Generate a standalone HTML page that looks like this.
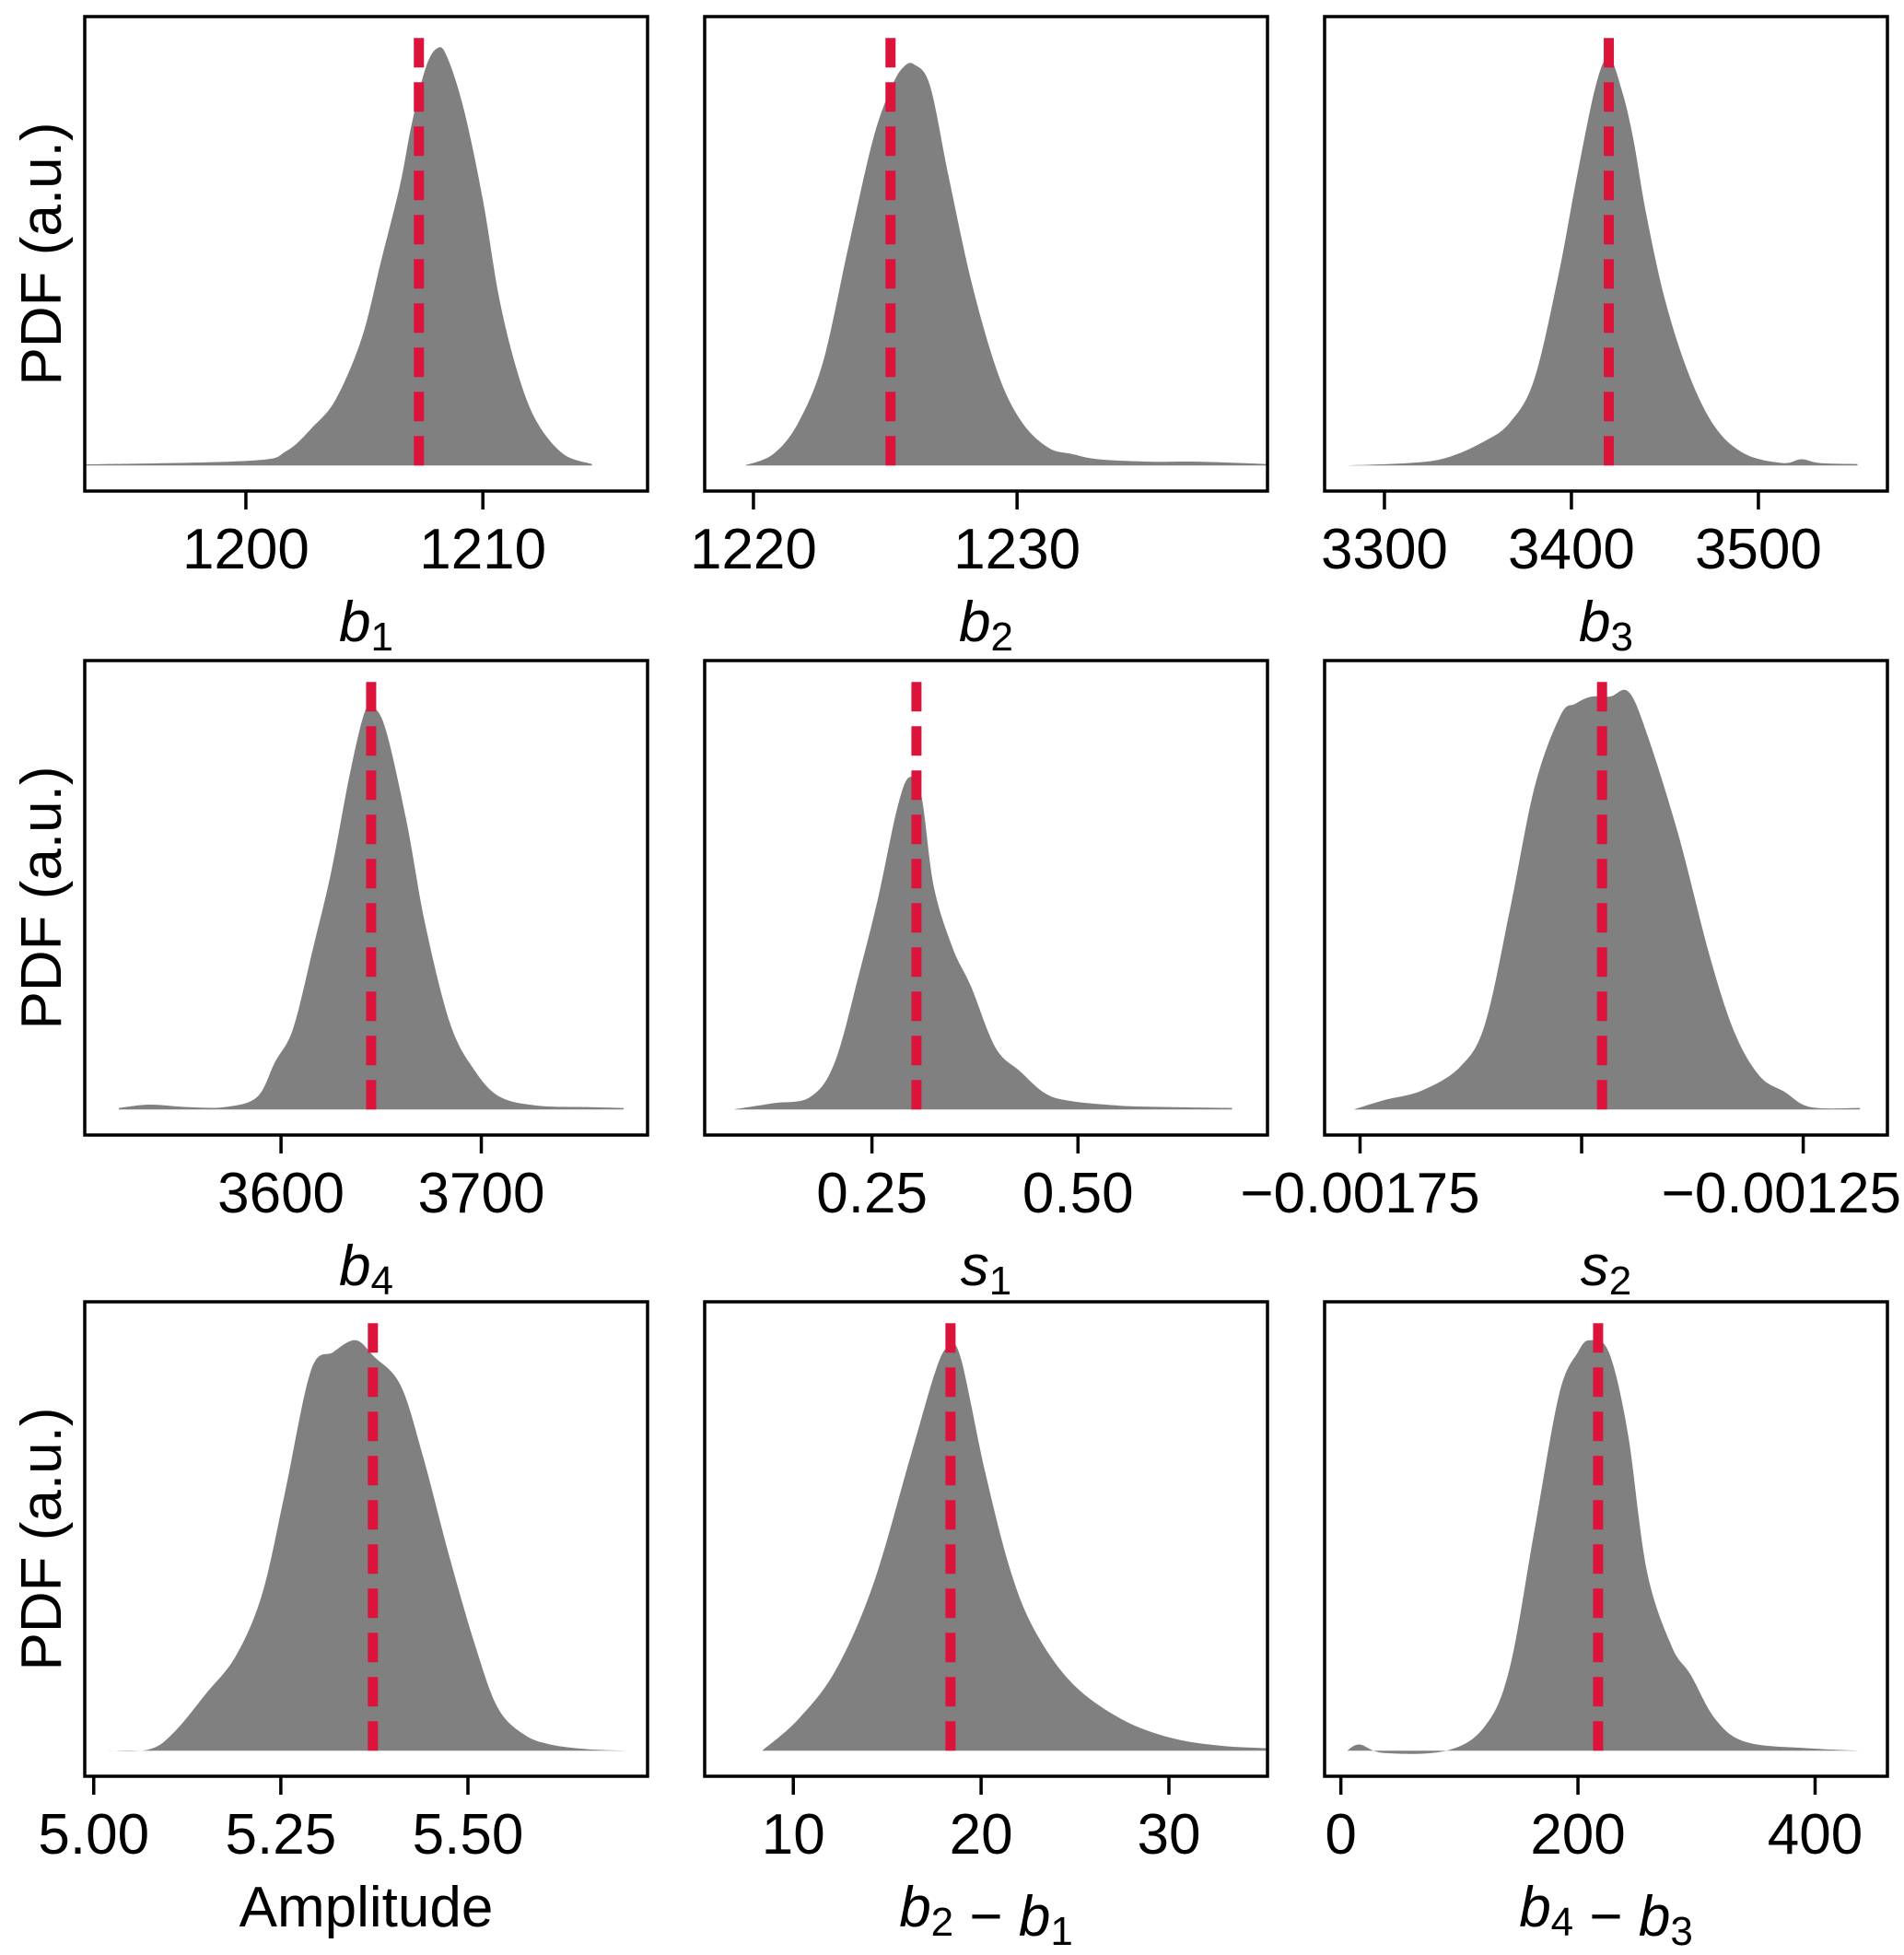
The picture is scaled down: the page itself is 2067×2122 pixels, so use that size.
<!DOCTYPE html>
<html><head><meta charset="utf-8">
<style>
html,body{margin:0;padding:0;background:#fff;}
svg{display:block;font-family:"Liberation Sans",Arial,sans-serif;}
</style></head>
<body>
<svg id="fig" width="2067" height="2122" viewBox="0 0 2067 2122"></svg>
<script>
// ---- data (per panel) ----
const p1x=[1193.2,1200.2,1201.7,1202.8,1203.8,1204.9,1205.7,1206.5,1207.0,1207.6,1208.1,1208.5,1209.2,1210.0,1210.7,1211.5,1212.3,1213.4,1214.6];
const p1y=[0.002,0.01,0.03,0.08,0.14,0.27,0.43,0.59,0.72,0.84,0.88,0.86,0.75,0.56,0.35,0.19,0.09,0.024,0.003];
const p2x=[1219.67,1220.75,1221.7,1222.65,1223.6,1224.55,1225.26,1225.7,1226.1,1226.7,1227.4,1228.3,1229.3,1230.2,1231.2,1232.1,1233.1,1235.0,1236.9,1239.5];
const p2y=[0.0,0.024,0.09,0.22,0.46,0.69,0.80,0.84,0.845,0.80,0.61,0.38,0.19,0.09,0.037,0.024,0.013,0.008,0.008,0.003];
const p3x=[3280,3313,3333,3353,3367,3380,3393,3403,3413,3420,3427,3433,3440,3450,3463,3477,3493,3513,3523,3533,3553];
const p3y=[0.0,0.005,0.016,0.05,0.09,0.18,0.40,0.61,0.80,0.86,0.79,0.69,0.53,0.35,0.19,0.08,0.024,0.005,0.013,0.005,0.003];
const p4x=[3519,3534.5,3553,3572,3588,3597,3606,3616,3625,3634.5,3642,3647,3653,3663,3672,3684.5,3697,3709.5,3728,3753,3771];
const p4y=[0.003,0.01,0.005,0.005,0.026,0.10,0.17,0.34,0.50,0.71,0.84,0.845,0.79,0.60,0.39,0.18,0.08,0.026,0.008,0.005,0.003];
const p5x=[0.082,0.13,0.175,0.205,0.235,0.258,0.28,0.295,0.31,0.325,0.348,0.37,0.40,0.43,0.46,0.49,0.55,0.61,0.687];
const p5y=[0.0,0.013,0.026,0.10,0.29,0.45,0.63,0.70,0.66,0.47,0.34,0.26,0.13,0.08,0.034,0.018,0.008,0.005,0.003];
const p6x=[-0.001757,-0.001722,-0.001680,-0.001637,-0.001609,-0.001581,-0.001553,-0.001524,-0.001507,-0.001489,-0.001468,-0.001447,-0.001426,-0.001391,-0.001355,-0.001327,-0.001299,-0.001271,-0.001242,-0.001186];
const p6y=[0.0,0.02,0.04,0.09,0.18,0.42,0.68,0.83,0.855,0.87,0.87,0.88,0.79,0.58,0.32,0.16,0.07,0.037,0.005,0.003];
const p7x=[5.02,5.075,5.108,5.15,5.19,5.225,5.255,5.29,5.32,5.35,5.375,5.41,5.44,5.475,5.51,5.54,5.575,5.61,5.66,5.71];
const p7y=[0.0,0.003,0.04,0.12,0.20,0.33,0.54,0.80,0.84,0.865,0.83,0.77,0.62,0.41,0.22,0.09,0.034,0.013,0.003,0.0];
const p8x=[8.34,10.26,12.26,14.25,16.24,17.57,18.23,18.9,20.2,21.56,22.9,24.9,27.5,30.2,32.85,35.25];
const p8y=[0.0,0.066,0.17,0.35,0.62,0.80,0.85,0.83,0.59,0.38,0.25,0.14,0.066,0.026,0.01,0.005];
const p9x=[5.3,15.8,36.8,89,121,142,163,184,200,210,226,242,258,279,295,316,342,395,437];
const p9y=[0.0,0.013,-0.005,0.0,0.05,0.17,0.46,0.75,0.84,0.865,0.84,0.67,0.38,0.22,0.16,0.066,0.018,0.005,0.0];
const truthVals=[1207.3,1225.2,3420,3645,0.304,-0.001477,5.373,18.37,217];
const xMins=[1193.2,1218.15,3268,3502,0.047,-0.00179,4.988,5.28,-13.7];
const xMaxs=[1216.95,1239.5,3569,3783,0.73,-0.001155,5.74,35.25,461];
const tickVals=[[1200,1210],[1220,1230],[3300,3400,3500],[3600,3700],[0.25,0.5],[-0.00175,-0.0015,-0.00125],[5.0,5.25,5.5],[10,20,30],[0,200,400]];
const tickLabels=[["1200","1210"],["1220","1230"],["3300","3400","3500"],["3600","3700"],["0.25","0.50"],["\u22120.00175","","\u22120.00125"],["5.00","5.25","5.50"],["10","20","30"],["0","200","400"]];
const xsArr=[p1x,p2x,p3x,p4x,p5x,p6x,p7x,p8x,p9x];
const ysArr=[p1y,p2y,p3y,p4y,p5y,p6y,p7y,p8y,p9y];
const labels=[["b","1"],["b","2"],["b","3"],["b","4"],["s","1"],["s","2"],["Amplitude",null],["b2-b1",null],["b4-b3",null]];

const NS="http://www.w3.org/2000/svg";
const svg=document.getElementById('fig');
const colL=[92,765,1438], rowT=[18,717,1413], W=611, H=515;
const Y0=-0.054, Y1=0.946;
function mk(tag,attrs,parent){const e=document.createElementNS(NS,tag);for(const k in attrs)e.setAttribute(k,attrs[k]);(parent||svg).appendChild(e);return e;}

function smoothPath(pts){
  let d=`M${pts[0][0]},${pts[0][1]}`;
  for(let i=0;i<pts.length-1;i++){
    const p0=pts[i-1]||pts[i],p1=pts[i],p2=pts[i+1],p3=pts[i+2]||p2;
    const c1=[p1[0]+(p2[0]-p0[0])/6,p1[1]+(p2[1]-p0[1])/6];
    const c2=[p2[0]-(p3[0]-p1[0])/6,p2[1]-(p3[1]-p1[1])/6];
    d+=` C${c1[0]},${c1[1]} ${c2[0]},${c2[1]} ${p2[0]},${p2[1]}`;
  }
  return d;
}

for(let i=0;i<9;i++){
  const r=Math.floor(i/3),c=i%3;
  const L=colL[c],T=rowT[r],B=T+H;
  const xs=v=>L+(v-xMins[i])/(xMaxs[i]-xMins[i])*W;
  const ys=v=>B-(v-Y0)/(Y1-Y0)*H;
  const g=mk('g',{});
  
  
  const pts=xsArr[i].map((x,j)=>[xs(x),ys(ysArr[i][j])]);
  let d=smoothPath(pts);
  d+=` L${xs(xsArr[i][xsArr[i].length-1])},${ys(0)} L${xs(xsArr[i][0])},${ys(0)} Z`;
  const path=mk('path',{d:d,fill:'#808080',stroke:'none'},g);
  
  
  const tl=mk('line',{x1:xs(truthVals[i]),x2:xs(truthVals[i]),y1:ys(0),y2:ys(0.905),stroke:'#DC143C','stroke-width':11,'stroke-dasharray':'32 16'},g);
  
  
  const fr=mk('rect',{x:L,y:T,width:W,height:H,fill:'none',stroke:'#000','stroke-width':3.5},g);
  
  
  tickVals[i].forEach((t,k)=>{
    const x=xs(t);
    const tk=mk('line',{x1:x,x2:x,y1:B,y2:B+20,stroke:'#000','stroke-width':3.5},g);
    
    
    if(tickLabels[i][k]){
      const tx=mk('text',{x:x,y:B+84,'font-size':62,'text-anchor':'middle',fill:'#000'},g);
      tx.textContent=tickLabels[i][k];
      
      
      const bb=tx.getBBox();
      if(bb.x+bb.width>2064){tx.setAttribute('text-anchor','end');tx.setAttribute('x',2064);}
    }
  });
  const xl=mk('text',{x:L+W/2,y:B+163,'font-size':62,'text-anchor':'middle',fill:'#000'},g);
  
  
  const lb=labels[i];
  function addVar(el,v,sub){
    const a=mk('tspan',{'font-style':'italic'},el);a.textContent=v;
    const s=mk('tspan',{'font-size':44,dy:10},el);s.textContent=sub;
    const z=mk('tspan',{dy:-10,'font-size':62},el);z.textContent='';
  }
  if(lb[1]){addVar(xl,lb[0],lb[1]);}
  else if(lb[0]==='Amplitude'){xl.textContent='Amplitude';}
  else{
    const a=lb[0]==='b2-b1'?['2','1']:['4','3'];
    addVar(xl,'b',a[0]);
    const m=mk('tspan',{},xl);m.textContent=' \u2212 ';
    addVar(xl,'b',a[1]);
  }
  if(c===0){
    const yl=mk('text',{x:0,y:0,'font-size':62,'text-anchor':'middle',fill:'#000',transform:`translate(66,${T+H/2}) rotate(-90)`},g);
    yl.textContent='PDF (a.u.)';
    
    
  }
}
</script>
</body></html>
